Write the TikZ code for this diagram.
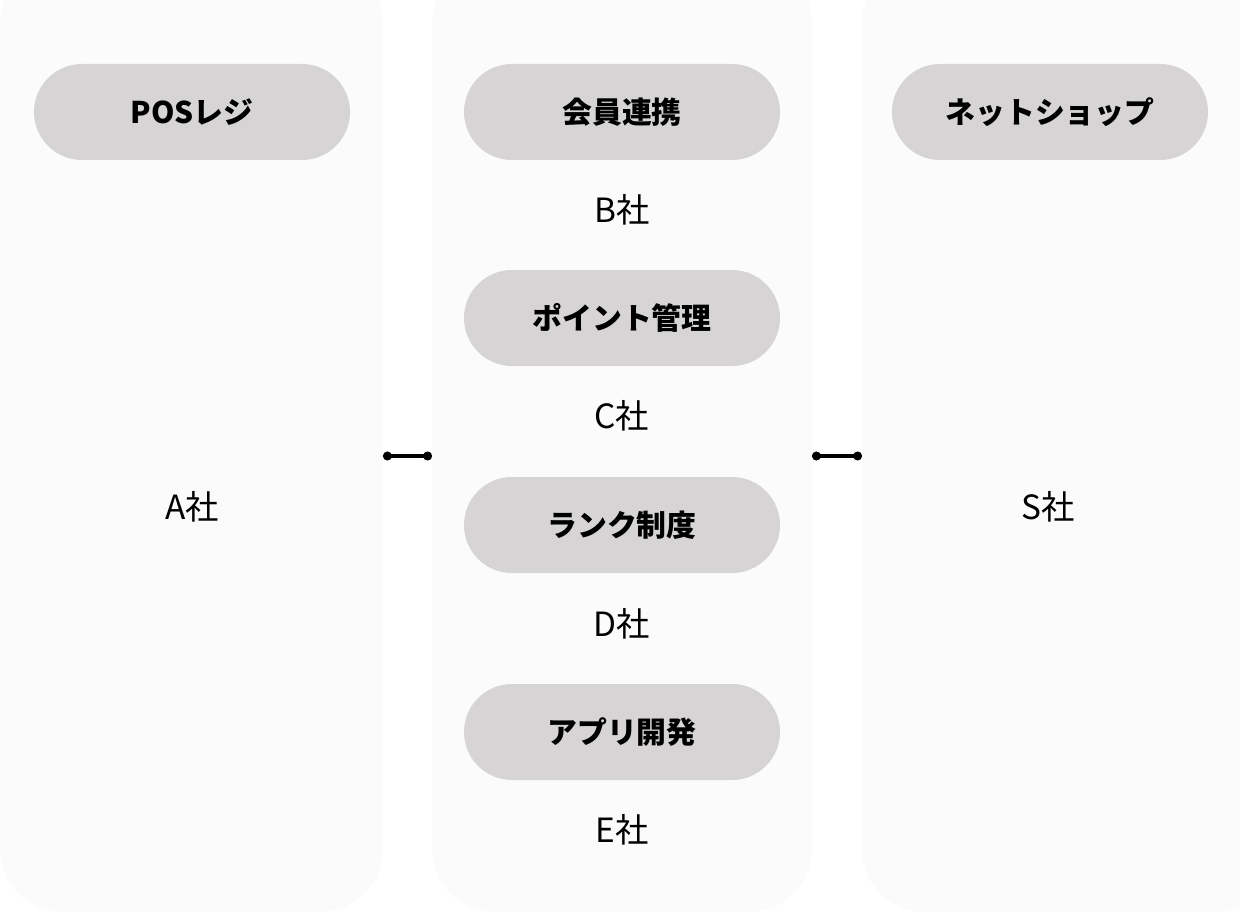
\documentclass[tikz,border=0pt]{standalone}
\usepackage{fontspec}
\setmainfont{Noto Sans CJK JP}
\usetikzlibrary{positioning}
\definecolor{colbg}{HTML}{FCFBFC}
\definecolor{pillgray}{HTML}{D6D4D5}
\tikzset{
  column/.style={fill=colbg, rounded corners=36pt},
  pill/.style={fill=pillgray, rounded corners=48*0.02cm, minimum width=316*0.02cm, minimum height=96*0.02cm, font=\fontsize{17}{20}\selectfont\bfseries},
  firm/.style={font=\fontsize{19}{22}\selectfont},
  link/.style={line width=2pt, {Circle[length=5pt]}-{Circle[length=5pt]}}
}
\usetikzlibrary{arrows.meta}
\begin{document}
\begin{tikzpicture}[x=0.02cm,y=-0.02cm]
\useasboundingbox (0,0) rectangle (1240,912);
\fill[column] (0,-40) rectangle (383,912);
\fill[column] (432,-40) rectangle (812,912);
\fill[column] (862,-40) rectangle (1280,912);
\node[pill] (pos) at (192,112) {POSレジ};
\node[pill] (member) at (622,112) {会員連携};
\node[pill] (point) at (622,318) {ポイント管理};
\node[pill] (rank) at (622,525) {ランク制度};
\node[pill] (app) at (622,732) {アプリ開発};
\node[pill] (shop) at (1050,112) {ネットショップ};
\node[firm] (firmA) at (192,507) {A社};
\node[firm] (firmB) at (622,210) {B社};
\node[firm] (firmC) at (622,416) {C社};
\node[firm] (firmD) at (622,624) {D社};
\node[firm] (firmE) at (622,830) {E社};
\node[firm] (firmS) at (1048,507) {S社};
\coordinate (la) at (383,456);
\coordinate (lb) at (432,456);
\coordinate (ra) at (812,456);
\coordinate (rb) at (862,456);
\draw[link] (la) -- (lb);
\draw[link] (ra) -- (rb);
\end{tikzpicture}
\end{document}
